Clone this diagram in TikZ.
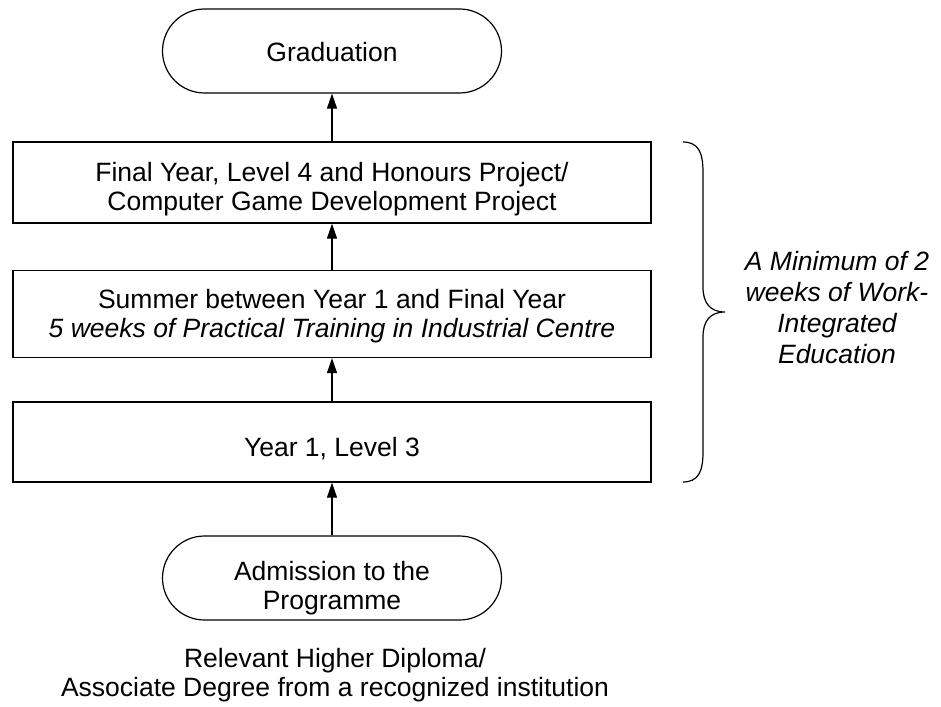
\documentclass[tikz,border=0pt]{standalone}
\usepackage{fontspec}
\setmainfont{Liberation Sans}
\usetikzlibrary{arrows.meta,shapes.misc}
\begin{document}
\begin{tikzpicture}[x=1pt,y=-1pt,line width=1.2pt,
        >={Triangle[length=15pt,width=10pt]},
        font=\fontsize{26.5}{29}\selectfont,
        stage/.style={shape=rectangle,draw=black,minimum width=638pt,inner sep=0pt},
        terminal/.style={shape=rounded rectangle,draw=black,minimum width=339pt,minimum height=84pt,inner sep=0pt},
        caption/.style={align=center,inner sep=0pt}]
            \useasboundingbox (0,0) rectangle (941,706);
            \node[terminal] (grad) at (332,51) {};
            \node[caption] (gradtext) at (332,52) {Graduation};
            \node[stage,minimum height=81pt] (final) at (332,182.5) {};
            \node[caption] (finaltext) at (332,189) {Final Year, Level 4 and Honours Project/\\Computer Game Development Project};
            \node[stage,minimum height=87pt] (summer) at (332,314) {};
            \node[caption] (summertext) at (332,316) {Summer between Year 1 and Final Year\\\textit{5 weeks of Practical Training in Industrial Centre}};
            \node[stage,minimum height=80pt] (yearone) at (332,442) {};
            \node[caption] (yearonetext) at (332,449) {Year 1, Level 3};
            \node[terminal] (admit) at (332,578) {};
            \node[caption] (admittext) at (332,588) {Admission to the\\Programme};
            \node[caption] (entry) at (335,675) {Relevant Higher Diploma/\\Associate Degree from a recognized institution};
            \node[caption,font=\fontsize{26.5}{31}\selectfont\itshape] (wie) at (837,308) {A Minimum of 2\\weeks of Work-\\Integrated\\Education};
            \path [->] (admit) edge (yearone);
            \path [->] (yearone) edge (summer);
            \path [->] (summer) edge (final);
            \path [->] (final) edge (grad);
            % brace beside the three stages
            \draw (683,142) .. controls (698,142) and (703,152) .. (703,172) -- (703,287)
                .. controls (703,303) and (710,312) .. (725,312)
                .. controls (710,312) and (703,321) .. (703,337) -- (703,452)
                .. controls (703,472) and (698,482) .. (683,482);
        \end{tikzpicture}
\end{document}
